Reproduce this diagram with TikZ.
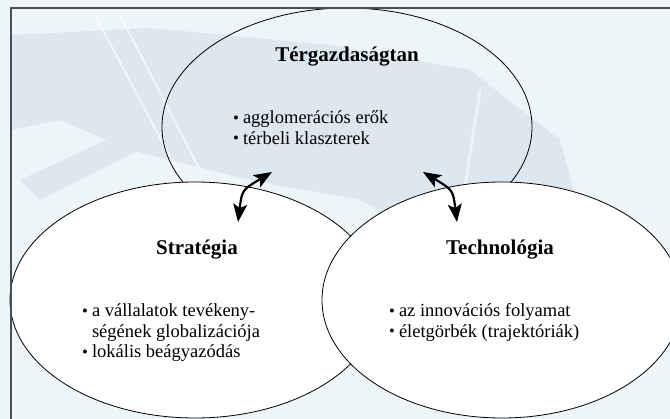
\documentclass[tikz,border=0pt]{standalone}
\usepackage{fontspec}
\setmainfont{Liberation Serif}
\usetikzlibrary{shapes.geometric,arrows.meta}

\definecolor{hatter}{HTML}{EEF5F9}
\definecolor{vizjel}{HTML}{DCE7F0}
\definecolor{keret}{HTML}{4A4F55}

\newcommand*{\pont}{\raisebox{0.1ex}{\scalebox{0.9}{•}}}
\newcommand*{\cimbetu}{\fontsize{21}{24}\selectfont\bfseries}
\newcommand*{\szoveg}{\fontsize{18.5}{20.5}\selectfont}

\begin{document}
\begin{tikzpicture}
[
	x=1pt, y=-1pt,
	kor/.style={ellipse,draw=black,line width=0.8pt,inner sep=0pt},
	cim/.style={font=\cimbetu,inner sep=0pt},
	lista/.style={font=\szoveg,inner sep=0pt,anchor=base west},
	nyil/.style={{Stealth[length=18pt,width=14pt,inset=4pt]}-{Stealth[length=18pt,width=14pt,inset=4pt]},line width=2.2pt}
]

	% background and watermark
	\fill[hatter] (0,0) rectangle (670,419);
	\useasboundingbox (0,0) rectangle (670,419);
	\fill[vizjel] (11,35) -- (150,28) -- (330,45) -- (470,70) -- (560,140) -- (590,250) -- (450,250) -- (360,200) -- (250,180) -- (130,150) -- (60,120) -- (11,130) -- cycle;
	\fill[vizjel] (20,180) -- (150,120) -- (170,135) -- (40,200) -- cycle;
	\draw[white,line width=2pt,opacity=0.6] (95,15) -- (185,185);
	\draw[white,line width=2pt,opacity=0.6] (120,15) -- (200,170);
	\draw[white,line width=3pt,opacity=0.5] (480,90) -- (455,250);

	% circles
	\node[kor,minimum width=370pt,minimum height=238pt] (terg) at (347,127) {};
	\node[kor,fill=white,minimum width=370pt,minimum height=236pt] (strat) at (195,300) {};
	\node[kor,fill=white,minimum width=360pt,minimum height=236pt] (tech) at (502,300) {};

	% frame
	\draw[keret,line width=1.5pt] (11,419) -- (11,8) -- (670,8);

	% titles
	\node[cim] (terg-cim) at (347,57) {Térgazdaságtan};
	\node[cim] (strat-cim) at (197,250) {Stratégia};
	\node[cim] (tech-cim) at (500,250) {Technológia};

	% bullet lists
	\node[lista] (terg-lista) at (233,124) {\begin{tabular}[t]{@{}l@{\hspace{4pt}}l@{}}\pont & agglomerációs erők\\ \pont & térbeli klaszterek\end{tabular}};
	\node[lista] (strat-lista) at (82,317) {\begin{tabular}[t]{@{}l@{\hspace{4pt}}l@{}}\pont & a vállalatok tevékeny-\\ & ségének globalizációja\\ \pont & lokális beágyazódás\end{tabular}};
	\node[lista] (tech-lista) at (389,317) {\begin{tabular}[t]{@{}l@{\hspace{4pt}}l@{}}\pont & az innovációs folyamat\\ \pont & életgörbék (trajektóriák)\end{tabular}};

	% arrows
	\coordinate (sn-a) at (238,222);
	\coordinate (sn-f) at (272,172);
	\coordinate (tn-a) at (457,222);
	\coordinate (tn-f) at (423,172);
	\draw[nyil] (sn-a) .. controls (242,190) .. (sn-f);
	\draw[nyil] (tn-a) .. controls (453,190) .. (tn-f);

\end{tikzpicture}
\end{document}
